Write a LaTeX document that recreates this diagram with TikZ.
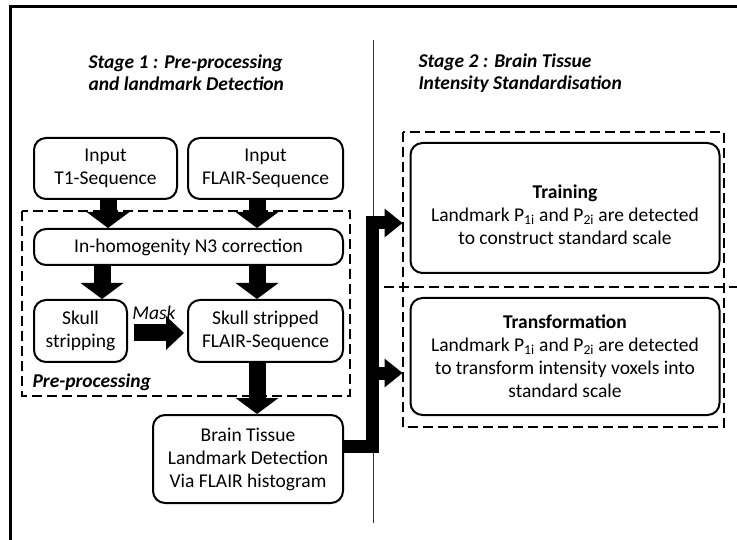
\documentclass[tikz,border=0pt]{standalone}
\usepackage{fontspec}
\setmainfont{Carlito}
\usetikzlibrary{arrows.meta}

\tikzset{
  stepbox/.style={draw, line width=2pt, rounded corners=12pt, align=center,
    inner sep=0pt, font=\fontsize{19.5}{23}\selectfont},
  groupbox/.style={draw, line width=2.8pt, dash pattern=on 10pt off 5pt},
  fatarrow/.style={line width=17pt, -{Triangle[length=16pt,width=43pt,line width=0pt]}},
  maskarrow/.style={line width=17pt, -{Triangle[length=18pt,width=34pt,line width=0pt]}},
  busline/.style={line width=13pt, line join=miter, -{Triangle[length=18pt,width=29pt,line width=0pt]}},
  stagetitle/.style={font=\fontsize{19.5}{22}\selectfont\bfseries\itshape, align=left, anchor=west}
}
\newcommand{\psub}[1]{\textsubscript{#1}}

\begin{document}
\begin{tikzpicture}[x=1pt,y=-1pt]
\useasboundingbox (0,0) rectangle (737,540);

% Frame and stage divider
\draw[line width=3pt] (10,540) -- (10,7) -- (737,7);
\draw[line width=1pt, black!80] (373,40) -- (373,523);

% Stage titles
\node[stagetitle] (stageone) at (85,73) {Stage 1 : Pre-processing\\and landmark Detection};
\node[stagetitle] (stagetwo) at (415,73) {Stage 2 : Brain Tissue\\Intensity Standardisation};

% Stage 1 boxes
\node[stepbox, minimum width=143pt, minimum height=61pt] (t1) at (105.5,168.5) {Input\\T1-Sequence};
\node[stepbox, minimum width=155pt, minimum height=61pt] (flair) at (265.5,168.5) {Input\\FLAIR-Sequence};
\node[stepbox, minimum width=309pt, minimum height=36pt] (n3) at (188.5,247) {In-homogenity N3 correction};
\node[stepbox, minimum width=93pt, minimum height=62pt] (skull) at (80.5,331) {Skull\\stripping};
\node[stepbox, minimum width=155pt, minimum height=62pt] (ssflair) at (265.5,331) {Skull stripped\\FLAIR-Sequence};
\node[stepbox, minimum width=190pt, minimum height=88pt] (landmark) at (248,459) {Brain Tissue\\Landmark Detection\\Via FLAIR histogram};

% Pre-processing group
\draw[groupbox] (22,211) rectangle (350,396);
\node[font=\fontsize{19.5}{22}\selectfont\bfseries\itshape, anchor=west] (prelabel) at (29,382) {Pre-processing};

% Stage 1 arrows
\coordinate (colA) at (108,0);
\coordinate (colB) at (257,0);
\coordinate (colC) at (102,0);
\draw[fatarrow] (colA |- t1.south) -- (colA |- n3.north);
\draw[fatarrow] (colB |- flair.south) -- (colB |- n3.north);
\draw[fatarrow] (colC |- n3.south) -- (colC |- skull.north);
\draw[fatarrow] (colB |- n3.south) -- (colB |- ssflair.north);
\draw[fatarrow] (colB |- ssflair.south) -- (colB |- landmark.north);
\draw[maskarrow, shorten <=6pt, shorten >=3pt] (skull.east |- 0,333) -- (ssflair.west |- 0,333);
\node[font=\fontsize{19.5}{22}\selectfont\itshape] (masklabel) at (154,313) {Mask};

% Stage 2 boxes
\draw[groupbox] (403,132) rectangle (724,427);
\draw[groupbox] (384,287) -- (737,287);
\node[stepbox, minimum width=309pt, minimum height=130pt] (train) at (565,208)
  {\rule{0pt}{27pt}\textbf{Training}\\Landmark P\psub{1i} and P\psub{2i} are detected\\to construct standard scale};
\node[stepbox, minimum width=309pt, minimum height=117pt] (trans) at (565,356.5)
  {\textbf{Transformation}\\Landmark P\psub{1i} and P\psub{2i} are detected\\to transform intensity voxels into\\standard scale};

% Connector to stage 2
\coordinate (jbase) at (372,446);
\coordinate (jtop) at (372,223);
\coordinate (jlow) at (372,373);
\draw[busline, shorten >=7pt] (landmark.east |- jbase) -| (jtop) -- (jtop -| train.west);
\draw[busline, shorten >=7pt] (jlow) -- (jlow -| trans.west);

\end{tikzpicture}
\end{document}
